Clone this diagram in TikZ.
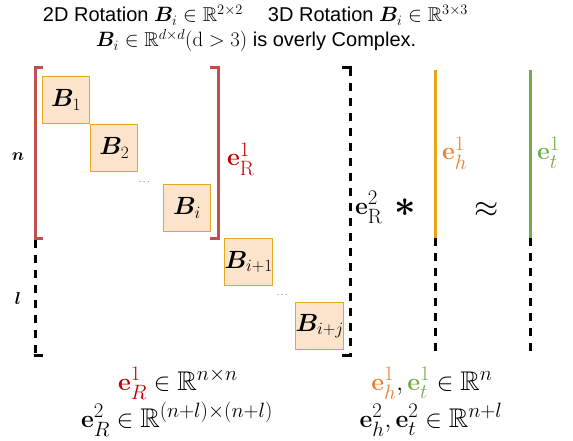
\documentclass[tikz,border=0pt]{standalone}
\usepackage{amsmath,amssymb,bm,graphicx}
\usepackage[no-math]{fontspec}
\setmainfont{Liberation Sans}
\DeclareMathSizes{27}{27}{21}{16}
\DeclareMathSizes{23}{23}{17}{13}
\definecolor{brkred}{HTML}{C0504D}
\definecolor{labred}{HTML}{C00000}
\definecolor{blkline}{HTML}{E6A81E}
\definecolor{blkfill}{HTML}{FCE4CC}
\definecolor{hline}{HTML}{E9A512}
\definecolor{hlab}{HTML}{ED7D31}
\definecolor{tgreen}{HTML}{70AD47}

\begin{document}
\begin{tikzpicture}[x=1pt, y=-1pt,
    blk/.style={draw=blkline, fill=blkfill, line width=1.2pt, minimum size=47pt,
                inner sep=0pt, anchor=north west, font=\fontsize{23}{23}\selectfont},
    redbrk/.style={draw=brkred, line width=3pt},
    dashbrk/.style={draw=black, line width=3pt, dash pattern=on 8pt off 7pt},
    blkbrk/.style={draw=black, line width=3pt},
    ttl/.style={inner sep=0pt, font=\fontsize{20}{24}\selectfont},
    lbl/.style={inner sep=0pt, font=\fontsize{27}{32}\selectfont}]
    \useasboundingbox (0,0) rectangle (573,441);
    % title
    \node[ttl, anchor=base] (rot2) at (143,22) {2D Rotation $\bm{B}_i \in \mathbb{R}^{2\times 2}$};
    \node[ttl, anchor=base] (rot3) at (368,22) {3D Rotation $\bm{B}_i \in \mathbb{R}^{3\times 3}$};
    \node[ttl, anchor=base] (rotd) at (256,47) {$\bm{B}_i \in \mathbb{R}^{d\times d}(\mathrm{d}>3)$ is overly Complex.};
    % blocks
    \node[blk] (b1) at (42,76) {$\bm{B}_1$};
    \node[blk] (b2) at (b1.south east) {$\bm{B}_2$};
    \node[blk] (bi) at (163,184) {$\bm{B}_i$};
    \node[blk] (bi1) at (224,238) {$\bm{B}_{i+1}$};
    \node[blk] (bij) at (295,302) {$\bm{B}_{i+j}$};
    \node[inner sep=0pt, font=\small] (dots1) at (145,182) {$\dots$};
    \node[inner sep=0pt, font=\small] (dots2) at (283,295) {$\dots$};
    % brackets
    \draw[redbrk] (43,68) -- (35,68) -- (35,238) -- (43,238);
    \draw[redbrk] (210,68) -- (218,68) -- (218,238) -- (210,238);
    \draw[dashbrk] (35,240) -- (35,355);
    \draw[blkbrk] (33.5,355) -- (43,355);
    \draw[dashbrk] (350,68) -- (350,355);
    \draw[blkbrk] (342,68) -- (351.5,68);
    \draw[blkbrk] (342,355) -- (351.5,355);
    % vectors
    \draw[line width=3pt, hline] (435,70) -- (435,238);
    \draw[dashbrk] (435,238) -- (435,355);
    \draw[line width=3pt, tgreen] (530,70) -- (530,238);
    \draw[dashbrk] (530,238) -- (530,355);
    % labels
    \node[inner sep=0pt, font=\fontsize{16}{16}\selectfont] (nlab) at (18,157) {$\bm{n}$};
    \node[inner sep=0pt, font=\fontsize{16}{16}\selectfont] (llab) at (18,298) {$\bm{l}$};
    \node[lbl, anchor=base west, text=labred] (er1) at (227,166) {$\mathbf{e}^1_{\mathrm{R}}$};
    \node[lbl, anchor=base west] (er2) at (355,214) {$\mathbf{e}^2_{\mathrm{R}}$};
    \node[inner sep=0pt, font=\fontsize{24}{24}\selectfont] (star) at (405,208) {\scalebox{1.5}{$\bm{\ast}$}};
    \node[lbl, anchor=base west, text=hlab] (eh1) at (442,160) {$\mathbf{e}^1_{h}$};
    \node[inner sep=0pt, font=\fontsize{24}{24}\selectfont] (approx) at (487,210) {\scalebox{1.25}{$\approx$}};
    \node[lbl, anchor=base west, text=tgreen] (et1) at (537,160) {$\mathbf{e}^1_{t}$};
    % dimensions
    \node[lbl, anchor=base] (dimr1) at (178,390) {$\textcolor{labred}{\mathbf{e}^1_R} \in \mathbb{R}^{n\times n}$};
    \node[lbl, anchor=base] (dimr2) at (177,427) {$\mathbf{e}^2_R \in \mathbb{R}^{(n+l)\times(n+l)}$};
    \node[lbl, anchor=base] (dimht1) at (432,390) {$\textcolor{hlab}{\mathbf{e}^1_h}, \textcolor{tgreen}{\mathbf{e}^1_t} \in \mathbb{R}^{n}$};
    \node[lbl, anchor=base] (dimht2) at (431,427) {$\mathbf{e}^2_h, \mathbf{e}^2_t \in \mathbb{R}^{n+l}$};
\end{tikzpicture}
\end{document}
